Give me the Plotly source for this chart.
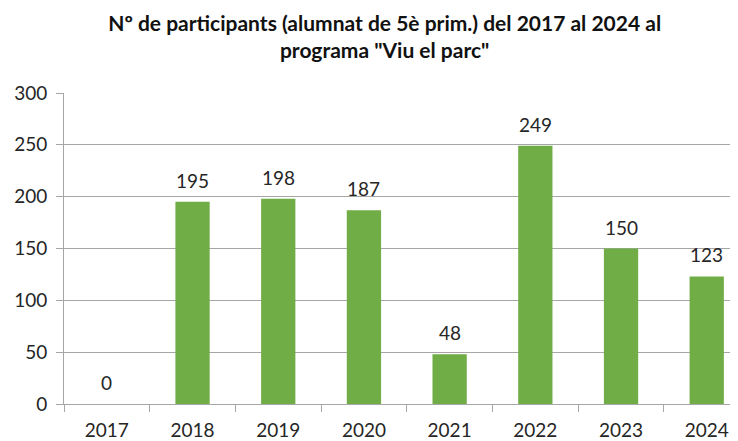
import plotly.graph_objects as go

years = ["2017", "2018", "2019", "2020", "2021", "2022", "2023", "2024"]
participants = [0, 195, 198, 187, 48, 249, 150, 123]

title_text = ('<b>Nº de participants (alumnat de 5è prim.) del 2017 al 2024 al<br>'
              'programa "Viu el parc"</b>')

font_family = "Lato, Noto Sans, sans-serif"
text_color = "#262626"
axis_gray = "#A6A6A6"

fig = go.Figure(go.Bar(
    x=years,
    y=participants,
    marker=dict(color="#70AD47", line=dict(width=0)),
    width=0.4,
    hoverinfo="x+y",
))

# value labels sit a little above each bar, like the spreadsheet original
# (x given as category index, since "2017" etc. would be read as numbers)
for i, value in enumerate(participants):
    fig.add_annotation(x=i, y=value, text=str(value), showarrow=False,
                       yanchor="bottom", yshift=8,
                       font=dict(size=19, color=text_color, family=font_family))

fig.update_layout(
    width=730,
    height=441,
    margin=dict(l=56, r=0, t=85, b=45),
    plot_bgcolor="white",
    paper_bgcolor="white",
    showlegend=False,
    title=dict(text=title_text, x=0.516, xanchor="center",
               yref="container", y=1 - 23 / 441, yanchor="middle",
               font=dict(size=21, color="#111111", family=font_family)),
    font=dict(family=font_family, size=19, color=text_color),
)

fig.update_yaxes(
    range=[0, 300],
    dtick=50,
    showgrid=True,
    gridcolor=axis_gray,
    gridwidth=1,
    showline=True,
    linecolor=axis_gray,
    ticks="outside",
    ticklen=7,
    tickcolor=axis_gray,
    ticklabelstandoff=5,
    zeroline=False,
    tickfont=dict(size=19, color=text_color),
)

fig.update_xaxes(
    type="category",
    range=[-0.5, 7.365],
    showline=True,
    linecolor=axis_gray,
    ticks="outside",
    tickson="boundaries",
    ticklen=7,
    tickcolor=axis_gray,
    ticklabelstandoff=9,
    tickfont=dict(size=19, color=text_color),
)

fig.write_html("out.html")
